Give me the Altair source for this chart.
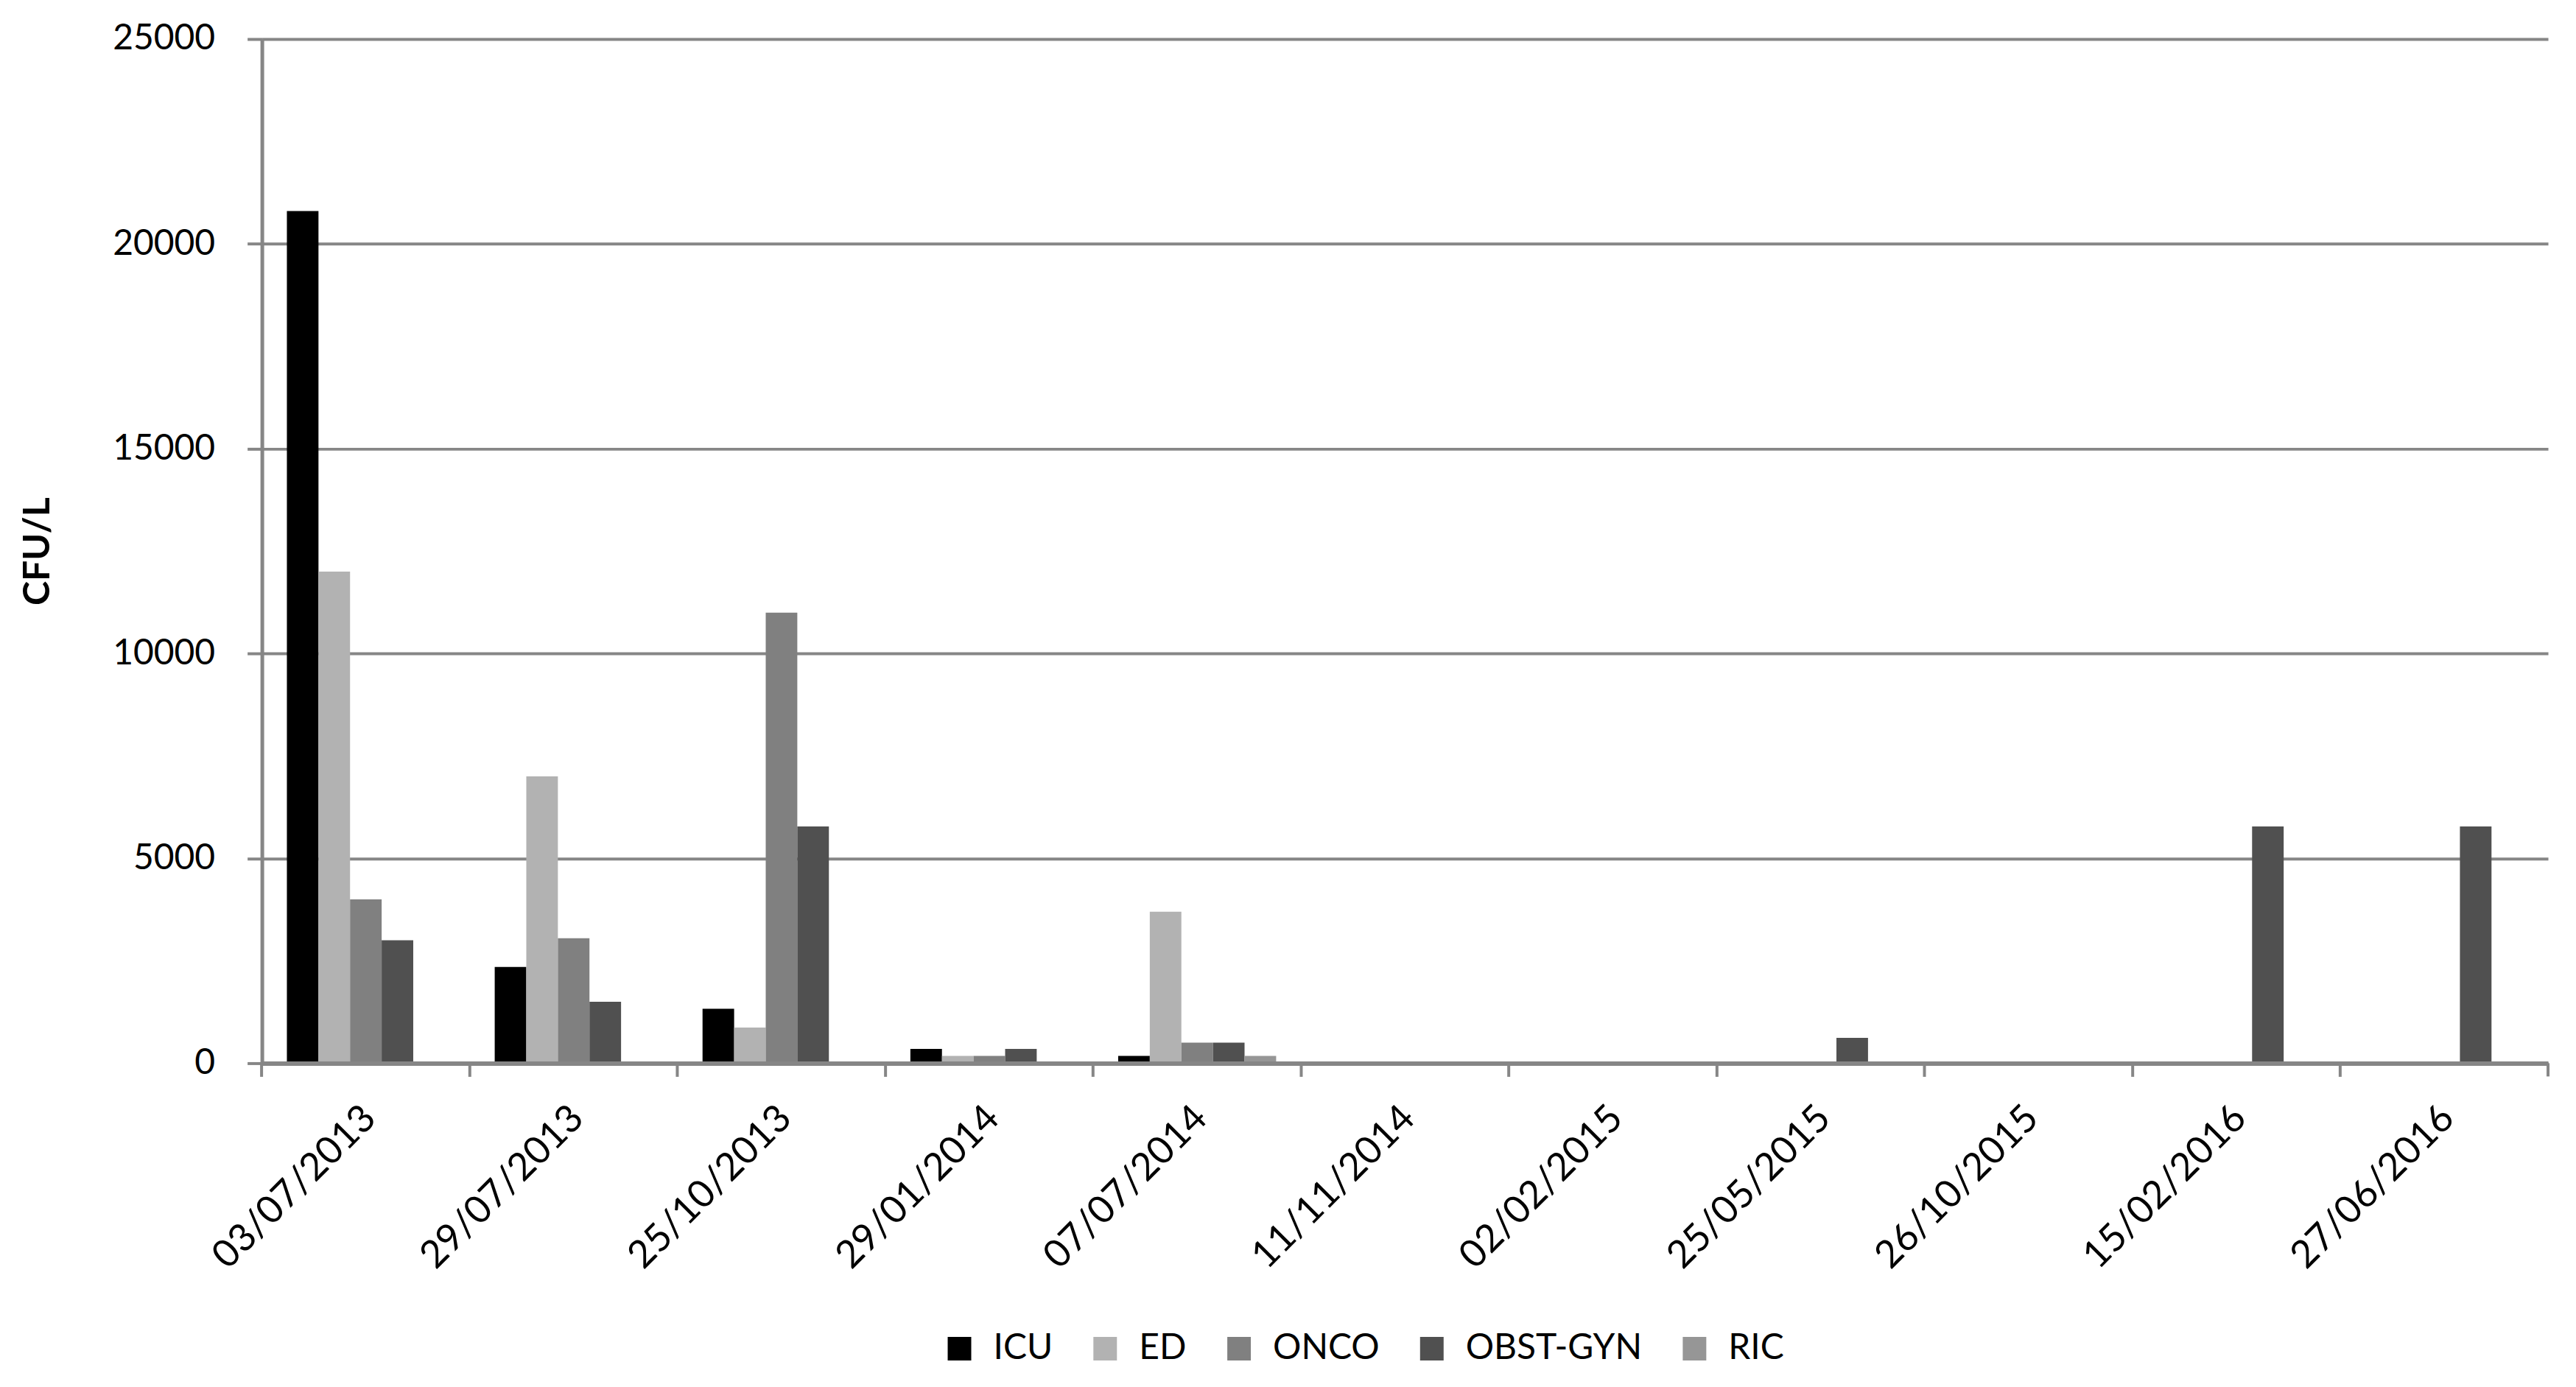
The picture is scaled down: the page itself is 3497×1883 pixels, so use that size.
import altair as alt
import pandas as pd

dates = ["03/07/2013", "29/07/2013", "25/10/2013", "29/01/2014", "07/07/2014",
         "11/11/2014", "02/02/2015", "25/05/2015", "26/10/2015", "15/02/2016", "27/06/2016"]
series = ["ICU", "ED", "ONCO", "OBST-GYN", "RIC"]

icu = [20800, 2350, 1330, 350, 180, 0, 0, 0, 0, 0, 0]
ed = [12000, 7000, 870, 180, 3700, 0, 0, 0, 0, 0, 0]
onco = [4000, 3050, 11000, 180, 500, 0, 0, 0, 0, 0, 0]
obst_gyn = [3000, 1500, 5780, 350, 500, 0, 0, 620, 0, 5780, 5780]
ric = [0, 0, 0, 0, 180, 0, 0, 0, 0, 0, 0]

colors = ["#000000", "#b2b2b2", "#808080", "#505050", "#969696"]
y_ticks = [0, 5000, 10000, 15000, 20000, 25000]

values_by_series = [icu, ed, onco, obst_gyn, ric]
rows = []
for s, vals in zip(series, values_by_series):
    for d, v in zip(dates, vals):
        rows.append({"date": d, "series": s, "value": v})
df = pd.DataFrame(rows)

W, H = 3107, 1392
FONT = "Lato"
GRAY = "#868686"

bars = alt.Chart(df).mark_bar().encode(
    x=alt.X("date:N", sort=dates,
            scale=alt.Scale(paddingInner=0.24, paddingOuter=0.12),
            axis=alt.Axis(title=None, bandPosition=-0.158, labelOffset=5, labelAngle=-45,
                          labelAlign="right", labelBaseline="middle", labelPadding=48,
                          labelLimit=0, labelFontSize=52,
                          tickSize=18, tickWidth=4, tickColor=GRAY, domainWidth=6,
                          domainColor=GRAY, grid=False, zindex=1)),
    xOffset=alt.XOffset("series:N", sort=series,
                        scale=alt.Scale(domain=series, paddingInner=0, paddingOuter=0)),
    y=alt.Y("value:Q", scale=alt.Scale(domain=[0, 25000], nice=False),
            axis=alt.Axis(values=y_ticks, format="d", title="CFU/L", titleFontWeight="bold",
                          titleFontSize=50, titleFont=FONT, titleAngle=270,
                          titleAlign="center", titleBaseline="middle",
                          titleX=-304, titleY=H / 2,
                          tickSize=20, tickWidth=4, tickColor=GRAY,
                          domainWidth=5, domainColor=GRAY,
                          grid=True, gridColor=GRAY, gridWidth=4,
                          labelPadding=44, labelFontSize=48)),
    color=alt.Color("series:N", sort=series,
                    scale=alt.Scale(domain=series, range=colors),
                    legend=alt.Legend(title=None, orient="none", direction="horizontal",
                                      legendX=924, legendY=1756, symbolType="square",
                                      symbolSize=1024, symbolStrokeWidth=0,
                                      labelFontSize=48, labelFont=FONT, labelOffset=22,
                                      labelExpr="datum.label == 'OBST-GYN' ? 'OBST-GYN\u00a0\u00a0\u00a0\u00a0\u00a0' : datum.label",
                                      labelLimit=0, columnPadding=47, padding=0)),
)

end_tick = alt.Chart(pd.DataFrame({"a": [0]})).mark_rule(color=GRAY, strokeWidth=4).encode(
    x=alt.value(W), y=alt.value(H), y2=alt.value(H + 18)
)

chart = alt.layer(bars, end_tick).properties(
    width=W, height=H,
    autosize=alt.AutoSizeParams(type="none"),
    padding={"left": 348, "top": 44, "right": 30, "bottom": 420},
).configure_view(stroke=None).configure_axis(
    labelFont=FONT, labelFontSize=48, labelColor="#000000", titleColor="#000000"
).configure_legend(labelColor="#000000")

chart.save("out.html", embed_options={"renderer": "svg", "actions": False})
